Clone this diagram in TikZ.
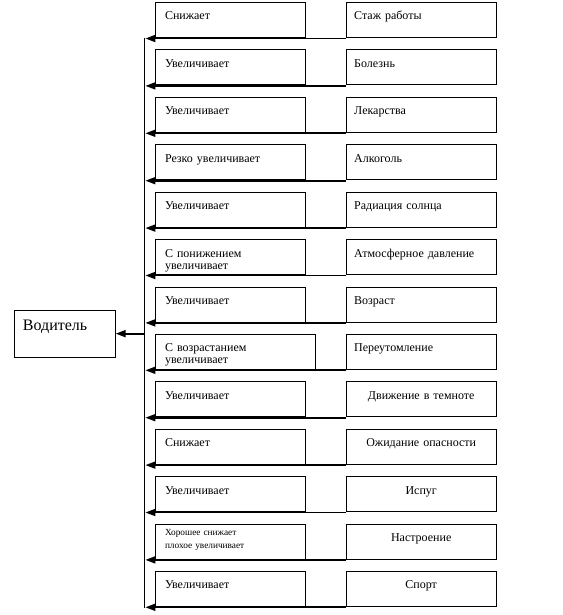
\documentclass[tikz,border=0pt]{standalone}
\usepackage{fontspec}
\setmainfont{Liberation Serif}
\usetikzlibrary{arrows.meta,positioning}

\begin{document}
\begin{tikzpicture}[x=1pt,y=-1pt,
  box/.style={draw=black,line width=0.8pt,outer sep=0pt,inner sep=0pt,
    minimum width=150.4pt,minimum height=35pt,anchor=north west},
  row below/.style={below=12.4pt of #1.south west,anchor=north west},
  ltxt/.style={anchor=base west,inner sep=0pt,text width=145pt,align=left,
    xshift=9.5pt,yshift=-17.5pt,font=\fontsize{12}{12}\selectfont},
  rtxt/.style={ltxt,xshift=-1.5pt},
  ctxt/.style={anchor=base,inner sep=0pt,text width=145pt,align=center,
    yshift=-17.5pt,font=\fontsize{12}{12}\selectfont},
  link/.style={line width=1.8pt,-{Triangle[length=10pt,width=7pt]}}
]
\useasboundingbox (0,0) rectangle (562,615);

% effects (left column)
\node[box,label={[ltxt]north west:Снижает}] (e1) at (155.3,2.5) {};
\node[box,row below=e1,label={[ltxt]north west:Увеличивает}] (e2) {};
\node[box,row below=e2,label={[ltxt]north west:Увеличивает}] (e3) {};
\node[box,row below=e3,label={[ltxt]north west:Резко увеличивает}] (e4) {};
\node[box,row below=e4,label={[ltxt]north west:Увеличивает}] (e5) {};
\node[box,row below=e5,label={[ltxt]north west:С понижением\\увеличивает}] (e6) {};
\node[box,row below=e6,label={[ltxt]north west:Увеличивает}] (e7) {};
\node[box,row below=e7,minimum width=160.2pt,
  label={[ltxt]north west:С возрастанием\\увеличивает}] (e8) {};
\node[box,row below=e8,label={[ltxt]north west:Увеличивает}] (e9) {};
\node[box,row below=e9,label={[ltxt]north west:Снижает}] (e10) {};
\node[box,row below=e10,label={[ltxt]north west:Увеличивает}] (e11) {};
\node[box,row below=e11,label={[ltxt,yshift=5.5pt,font=\fontsize{9.3}{13}\selectfont]
  north west:Хорошее снижает\\плохое увеличивает}] (e12) {};
\node[box,row below=e12,label={[ltxt]north west:Увеличивает}] (e13) {};

% factors (right column)
\node[box,label={[rtxt]north west:Стаж работы}] (c1) at (346,2.5) {};
\node[box,row below=c1,label={[rtxt]north west:Болезнь}] (c2) {};
\node[box,row below=c2,label={[rtxt]north west:Лекарства}] (c3) {};
\node[box,row below=c3,label={[rtxt]north west:Алкоголь}] (c4) {};
\node[box,row below=c4,label={[rtxt]north west:Радиация солнца}] (c5) {};
\node[box,row below=c5,label={[rtxt]north west:Атмосферное давление}] (c6) {};
\node[box,row below=c6,label={[rtxt]north west:Возраст}] (c7) {};
\node[box,row below=c7,label={[rtxt]north west:Переутомление}] (c8) {};
\node[box,row below=c8,label={[ctxt]north:Движение в темноте}] (c9) {};
\node[box,row below=c9,label={[ctxt]north:Ожидание опасности}] (c10) {};
\node[box,row below=c10,label={[ctxt]north:Испуг}] (c11) {};
\node[box,row below=c11,label={[ctxt]north:Настроение}] (c12) {};
\node[box,row below=c12,label={[ctxt]north:Спорт}] (c13) {};

\node[box,minimum width=101.7pt,minimum height=47.3pt,
  label={[ltxt,xshift=-0.8pt,yshift=-2.5pt,font=\fontsize{16}{18}\selectfont]
  north west:Водитель}] (driver) at (14,310) {};

\coordinate (spine) at (144.5,0);
\draw[line width=1.8pt] ([yshift=-0.2pt]c1.south west -| spine)
  -- ([yshift=-1.8pt]c13.south west -| spine);
\foreach \i in {1,...,13}
  \draw[link,shorten >=0.9pt] ([yshift=-1pt]c\i.south west)
    -- ([yshift=-1pt]c\i.south west -| spine);
\draw[link] (driver.east -| spine) -- (driver.east);
\end{tikzpicture}
\end{document}
